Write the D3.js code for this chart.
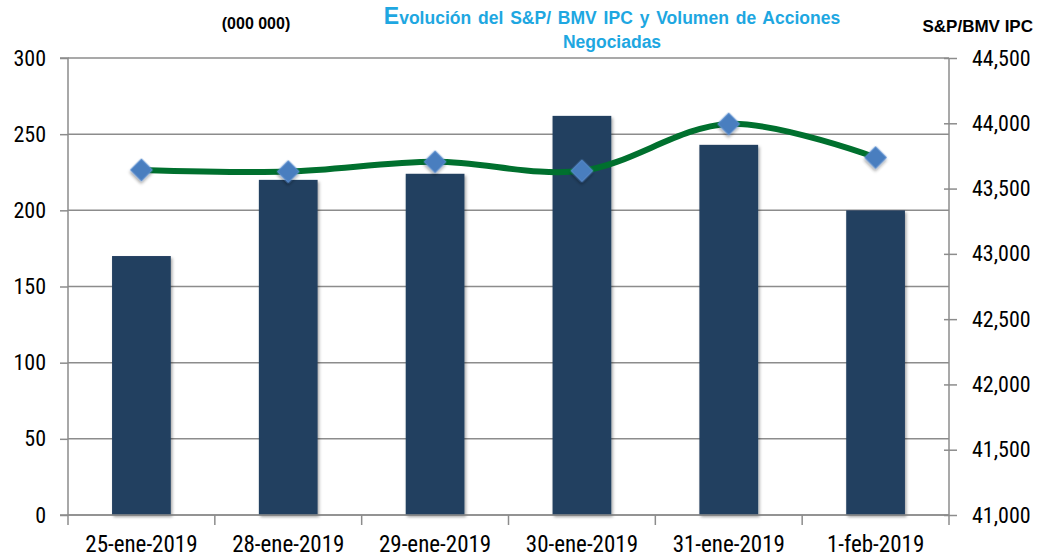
<!DOCTYPE html>
<html>
<head>
<meta charset="utf-8">
<script src="https://cdn.jsdelivr.net/npm/d3@7/dist/d3.min.js"></script>
<style>
  body { margin: 0; background: #fff; }
  svg { display: block; }
</style>
</head>
<body>
<div id="chart"></div>
<script>
// Data
const dates = ["25-ene-2019", "28-ene-2019", "29-ene-2019", "30-ene-2019", "31-ene-2019", "1-feb-2019"];
const volume = [170, 220, 224, 262, 243, 200];          // millones de acciones
const ipc = [43643, 43630, 43705, 43636, 43995, 43738]; // S&P/BMV IPC
const leftTicks = [0, 50, 100, 150, 200, 250, 300];
const rightTicks = [41000, 41500, 42000, 42500, 43000, 43500, 44000, 44500];

const width = 1039, height = 558;
const m = { top: 58, right: 90, bottom: 43, left: 68 };

const svg = d3.select("#chart").append("svg")
  .attr("width", width)
  .attr("height", height);

const defs = svg.append("defs");
const shadow = defs.append("filter").attr("id", "shadow")
  .attr("x", "-30%").attr("y", "-30%").attr("width", "160%").attr("height", "160%");
shadow.append("feDropShadow").attr("dx", 1.5).attr("dy", 2).attr("stdDeviation", 1.5)
  .attr("flood-color", "#000").attr("flood-opacity", 0.35);

const x = d3.scaleBand()
  .domain(dates)
  .range([m.left, width - m.right])
  .paddingInner(0.6)
  .paddingOuter(0.3);

const y = d3.scaleLinear().domain([0, 300]).range([height - m.bottom, m.top]);
const y2 = d3.scaleLinear().domain([41000, 44500]).range([height - m.bottom, m.top]);

const gridColor = "#8c8c8c";
const fontTicks = "'Liberation Sans Narrow', 'Roboto Condensed', 'DejaVu Sans Condensed', sans-serif";
const fontTitle = "'Liberation Sans', Arial, sans-serif";

// gridlines
svg.append("g")
  .selectAll("line")
  .data(leftTicks)
  .join("line")
  .attr("x1", m.left).attr("x2", width - m.right)
  .attr("y1", d => y(d)).attr("y2", d => y(d))
  .attr("stroke", gridColor).attr("stroke-width", 1.5);

// bars
svg.append("g")
  .selectAll("rect")
  .data(volume)
  .join("rect")
  .attr("x", (d, i) => x(dates[i]))
  .attr("y", d => y(d))
  .attr("width", x.bandwidth())
  .attr("height", d => y(0) - y(d))
  .attr("fill", "#243f60")
  .attr("filter", "url(#shadow)");

// left axis
const leftAxis = svg.append("g")
  .attr("transform", `translate(${m.left},0)`)
  .call(d3.axisLeft(y).tickValues(leftTicks).tickSize(8).tickPadding(14));

// right axis
const rightAxis = svg.append("g")
  .attr("transform", `translate(${width - m.right},0)`)
  .call(d3.axisRight(y2).tickValues(rightTicks).tickSize(8).tickPadding(15)
    .tickFormat(d3.format(",")));

// bottom axis: ticks at category boundaries
const bounds = d3.range(dates.length + 1).map(i => m.left + i * (width - m.right - m.left) / dates.length);
const bottom = svg.append("g");
bottom.append("line")
  .attr("x1", m.left).attr("x2", width - m.right)
  .attr("y1", y(0)).attr("y2", y(0))
  .attr("stroke", gridColor).attr("stroke-width", 1.5);
bottom.selectAll("line.tick")
  .data(bounds)
  .join("line")
  .attr("class", "tick")
  .attr("x1", d => d).attr("x2", d => d)
  .attr("y1", y(0)).attr("y2", y(0) + 10)
  .attr("stroke", gridColor).attr("stroke-width", 1.5);
bottom.selectAll("text")
  .data(dates)
  .join("text")
  .attr("x", d => x(d) + x.bandwidth() / 2)
  .attr("y", height - 6)
  .attr("text-anchor", "middle")
  .style("font-family", fontTicks)
  .style("font-size", "23px")
  .style("fill", "#000")
  .text(d => d);

[leftAxis, rightAxis].forEach(g => {
  g.select(".domain").attr("stroke", gridColor).attr("stroke-width", 1.5);
  g.selectAll(".tick line").attr("stroke", gridColor).attr("stroke-width", 1.5);
  g.selectAll(".tick text")
    .style("font-family", fontTicks)
    .style("font-size", "22px")
    .style("fill", "#000");
});
leftAxis.select(".domain").attr("d", `M-8,${y(300)}H0V${y(0)}H-8`);
rightAxis.select(".domain").attr("d", `M0,${y2(44500)}V${y2(41000)}`);
rightAxis.selectAll(".tick line").attr("x1", -5);

// IPC line
const line = d3.line()
  .x((d, i) => x(dates[i]) + x.bandwidth() / 2)
  .y(d => y2(d))
  .curve(d3.curveCatmullRom.alpha(0.5));

svg.append("path")
  .datum(ipc)
  .attr("d", line)
  .attr("fill", "none")
  .attr("stroke", "#00702e")
  .attr("stroke-width", 6)
  .attr("stroke-linecap", "round");

// diamond markers
const diamond = d3.symbol().type(d3.symbolSquare).size(240);
svg.append("g")
  .selectAll("path")
  .data(ipc)
  .join("path")
  .attr("d", diamond)
  .attr("transform", (d, i) => `translate(${x(dates[i]) + x.bandwidth() / 2},${y2(d)}) rotate(45)`)
  .attr("fill", "#4a7ebf")
  .attr("stroke", "#5b8fd0")
  .attr("stroke-width", 1)
  .attr("filter", "url(#shadow)");

// titles
const title = svg.append("text")
  .attr("x", 612).attr("y", 24)
  .attr("text-anchor", "middle")
  .style("font-family", fontTitle)
  .style("font-weight", "bold")
  .style("word-spacing", "2px")
  .style("fill", "#1ea7e1");
title.append("tspan").style("font-size", "23px").text("E");
title.append("tspan").style("font-size", "17.5px").text("volución del S&P/ BMV IPC y Volumen de Acciones");
svg.append("text")
  .attr("x", 612).attr("y", 48)
  .attr("text-anchor", "middle")
  .style("font-family", fontTitle)
  .style("font-weight", "bold")
  .style("font-size", "17.5px")
  .style("fill", "#1ea7e1")
  .text("Negociadas");

svg.append("text")
  .attr("x", 256).attr("y", 29)
  .attr("text-anchor", "middle")
  .style("font-family", fontTitle)
  .style("font-weight", "bold")
  .style("font-size", "16px")
  .text("(000 000)");

svg.append("text")
  .attr("x", 1033).attr("y", 32)
  .attr("text-anchor", "end")
  .style("font-family", fontTitle)
  .style("font-weight", "bold")
  .style("font-size", "17px")
  .text("S&P/BMV IPC");
</script>
</body>
</html>
